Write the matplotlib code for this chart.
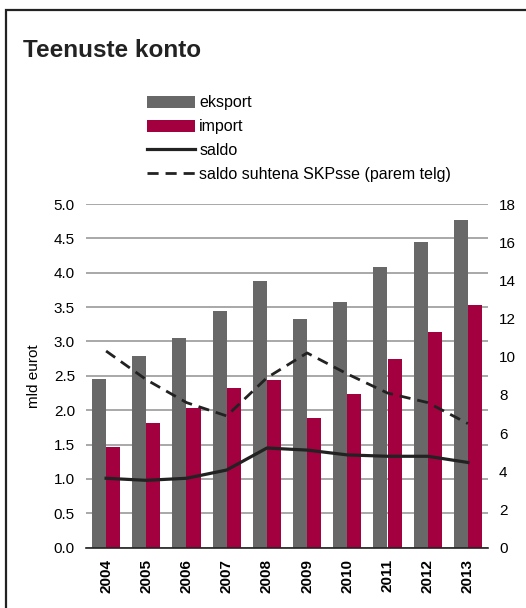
import numpy as np
import matplotlib
matplotlib.use("Agg")
from matplotlib import pyplot as plt
from matplotlib.patches import Rectangle

plt.rcParams['font.family'] = ['Liberation Sans', 'DejaVu Sans']

# Andmed
aastad = ['2004', '2005', '2006', '2007', '2008', '2009', '2010', '2011', '2012', '2013']
eksport = [2.46, 2.79, 3.05, 3.44, 3.88, 3.32, 3.57, 4.09, 4.45, 4.76]
import_ = [1.47, 1.82, 2.03, 2.33, 2.44, 1.88, 2.24, 2.74, 3.14, 3.53]
saldo = [1.01, 0.98, 1.01, 1.13, 1.45, 1.42, 1.35, 1.33, 1.33, 1.24]
saldo_skp = [10.3, 8.8, 7.6, 6.9, 8.9, 10.2, 9.1, 8.1, 7.6, 6.5]

hall = '#686868'
punane = '#A3003F'

fig = plt.figure(figsize=(5.26, 6.08), dpi=100)

# raam
fig.patches.append(Rectangle((6 / 526, -0.1), 1.2, 1 - 10 / 608 + 0.1,
                             transform=fig.transFigure, fill=False,
                             edgecolor='#222222', linewidth=1.6))

fig.text(23 / 526, 1 - 57 / 608, 'Teenuste konto', fontsize=17.5,
         fontweight='bold', color='#222222')

ax = fig.add_axes([86 / 526, 1 - 547.7 / 608, 402 / 526, 343.7 / 608])
x = np.arange(len(aastad))
laius = 0.35

b1 = ax.bar(x - laius / 2, eksport, laius, color=hall, label='eksport', zorder=2)
b2 = ax.bar(x + laius / 2, import_, laius, color=punane, label='import', zorder=2)
l1, = ax.plot(x, saldo, color='#222222', linewidth=2.3, label='saldo', zorder=3)

ax.set_xlim(-0.5, len(aastad) - 0.5)
ax.set_ylim(0, 5.0)
ax.set_yticks(np.arange(0, 5.01, 0.5))
ax.set_yticklabels([f'{v:.1f}' for v in np.arange(0, 5.01, 0.5)], fontsize=11)
ax.set_xticks(x)
ax.set_xticklabels(aastad, rotation=90, fontweight='bold', fontsize=11)
ax.tick_params(axis='both', length=0, pad=8)
ax.set_ylabel('mld eurot', fontsize=11, labelpad=9)
ax.yaxis.grid(True, color='#999999', linewidth=1.2, zorder=0)
ax.set_axisbelow(True)
for s in ['top', 'left', 'right']:
    ax.spines[s].set_visible(False)
ax.spines['bottom'].set_color('#222222')
ax.spines['bottom'].set_linewidth(1.2)

ax2 = ax.twinx()
l2, = ax2.plot(x, saldo_skp, color='#222222', linewidth=2, linestyle=(0, (4, 2.5)),
               label='saldo suhtena SKPsse (parem telg)', zorder=3)
ax2.set_ylim(0, 18)
ax2.set_yticks(range(0, 19, 2))
ax2.tick_params(axis='y', length=0, pad=8, labelsize=11)
for s in ['top', 'left', 'right', 'bottom']:
    ax2.spines[s].set_visible(False)

fig.legend([b1, b2, l1, l2],
           ['eksport', 'import', 'saldo', 'saldo suhtena SKPsse (parem telg)'],
           loc='upper left', bbox_to_anchor=(133 / 526, 1 - 81 / 608),
           frameon=False, fontsize=11.5, handlelength=3.0, handleheight=0.8,
           labelspacing=0.55, handletextpad=0.25)

fig.savefig('out.png', dpi=100)
plt.close(fig)
